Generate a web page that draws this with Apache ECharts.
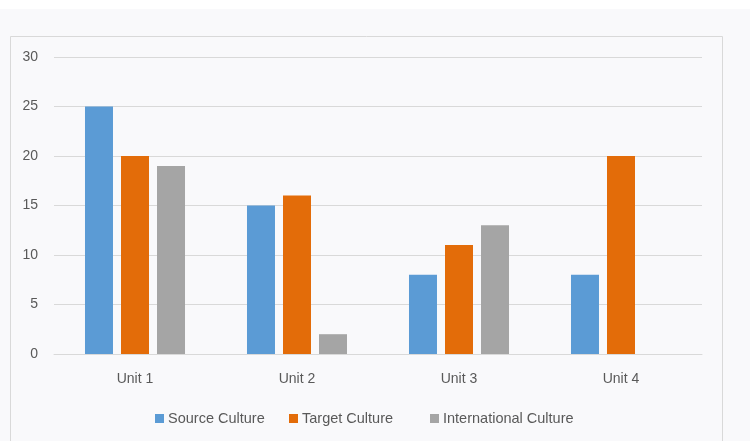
<!DOCTYPE html>
<html>
<head>
<meta charset="utf-8">
<script src="https://cdn.jsdelivr.net/npm/echarts@6/dist/echarts.min.js"></script>
<style>
html,body{margin:0;padding:0;background:#fff;}
#chart{width:750px;height:441px;}
</style>
</head>
<body>
<div id="chart"></div>
<script>
const categories = ['Unit 1', 'Unit 2', 'Unit 3', 'Unit 4'];
const sourceCulture = [25, 15, 8, 8];
const targetCulture = [20, 16, 11, 20];
const internationalCulture = [19, 2, 13, 0];
const seriesNames = ['Source Culture', 'Target Culture', 'International Culture'];

const chart = echarts.init(document.getElementById('chart'), null, {renderer: 'canvas'});
const font = 'Liberation Sans';
const txt = '#595959';
const legendLefts = [155, 289, 430];
const legends = seriesNames.map((n, i) => ({
  top: 411,
  left: legendLefts[i],
  padding: 0,
  itemWidth: 9,
  itemHeight: 9,
  icon: 'rect',
  textStyle: {color: txt, fontFamily: font, fontSize: 14.5, padding: [0, 0, 0, -1]},
  data: [n]
}));
chart.setOption({
  animation: false,
  backgroundColor: '#f9f9fb',
  graphic: [
    {type: 'rect', shape: {x: 0, y: 0, width: 750, height: 9}, style: {fill: '#ffffff'}, z: -10},
    {type: 'rect', shape: {x: 10.5, y: 36.5, width: 712, height: 430}, style: {fill: 'none', stroke: '#d9d9d9', lineWidth: 1}, z: -9}
  ],
  grid: {left: 54, right: 48, top: 57, bottom: 87, containLabel: false},
  legend: legends,
  xAxis: {
    type: 'category',
    data: categories,
    axisLine: {lineStyle: {color: '#d9d9d9', width: 1}},
    axisTick: {show: false},
    axisLabel: {color: txt, fontFamily: font, fontSize: 14, margin: 18}
  },
  yAxis: {
    type: 'value',
    min: 0, max: 30, interval: 5,
    axisLine: {show: false},
    axisTick: {show: false},
    splitLine: {lineStyle: {color: '#d9d9d9', width: 1}},
    axisLabel: {color: txt, fontFamily: font, fontSize: 14, margin: 16}
  },
  series: [
    {name: seriesNames[0], type: 'bar', data: sourceCulture, barWidth: 28, barGap: '28.6%', itemStyle: {color: '#5b9bd5'}},
    {name: seriesNames[1], type: 'bar', data: targetCulture, barWidth: 28, barGap: '28.6%', itemStyle: {color: '#e36c09'}},
    {name: seriesNames[2], type: 'bar', data: internationalCulture, barWidth: 28, barGap: '28.6%', itemStyle: {color: '#a5a5a5'}}
  ]
});
</script>
</body>
</html>
